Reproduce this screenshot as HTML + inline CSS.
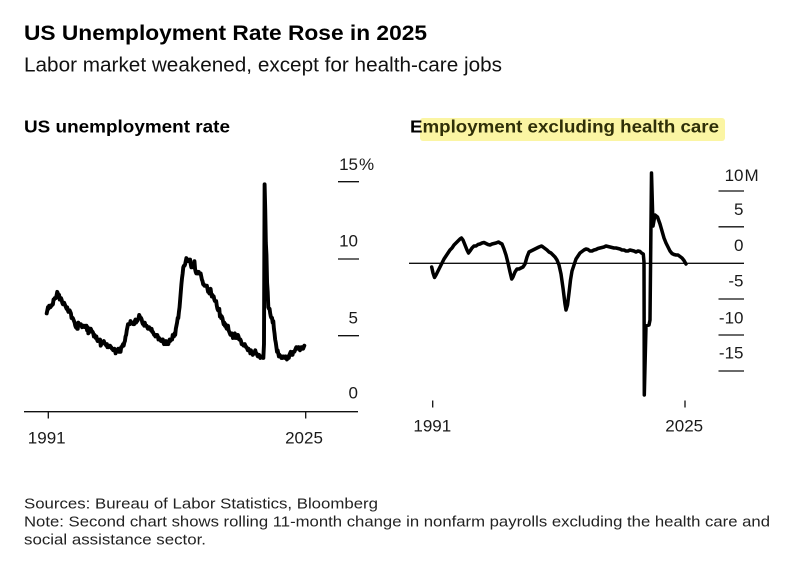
<!DOCTYPE html>
<html><head><meta charset="utf-8"><style>
html,body{margin:0;padding:0;background:#fff;}
svg{display:block;}
text{font-family:"Liberation Sans",Arial,sans-serif;}
</style></head><body>
<svg width="799" height="566" viewBox="0 0 799 566" xmlns="http://www.w3.org/2000/svg">
<rect width="799" height="566" fill="#fff"/>
<text x="24" y="40" font-size="21" font-weight="bold" fill="#000" textLength="403" lengthAdjust="spacingAndGlyphs">US Unemployment Rate Rose in 2025</text>
<text x="24" y="71.5" font-size="20.5" fill="#111" textLength="478" lengthAdjust="spacingAndGlyphs">Labor market weakened, except for health-care jobs</text>

<text x="24" y="132.5" font-size="17.5" font-weight="bold" fill="#000" textLength="206" lengthAdjust="spacingAndGlyphs">US unemployment rate</text>
<rect x="420" y="118" width="305" height="23" rx="3" fill="#fbf5a3"/>
<text x="410" y="132.5" font-size="17.5" font-weight="bold" fill="#2f2f08" textLength="309" lengthAdjust="spacingAndGlyphs"><tspan fill="#000">E</tspan>mployment excluding health care</text>

<g stroke="#111" stroke-width="1.3">
<line x1="338" y1="181.7" x2="359" y2="181.7"/>
<line x1="338" y1="259" x2="359" y2="259"/>
<line x1="338" y1="335.7" x2="359" y2="335.7"/>
<line x1="24" y1="411.7" x2="358" y2="411.7"/>
<line x1="48.3" y1="411.7" x2="48.3" y2="418.5"/>
<line x1="305.7" y1="411.7" x2="305.7" y2="418.5"/>
</g>
<g font-size="17" fill="#1a1a1a">
<text x="358" y="170" text-anchor="end">15</text><text x="359" y="170">%</text>
<text x="358" y="246.7" text-anchor="end">10</text>
<text x="358" y="323.3" text-anchor="end">5</text>
<text x="358" y="398.3" text-anchor="end">0</text>
<text x="46.7" y="443.3" text-anchor="middle">1991</text>
<text x="304" y="443.3" text-anchor="middle">2025</text>
</g>
<polyline transform="translate(46.7 411.7) scale(0.6208 -15.36)" vector-effect="non-scaling-stroke" fill="none" stroke="#000" stroke-width="3.9" stroke-linejoin="round" stroke-linecap="round" points="0,6.4 1,6.6 2,6.8 3,6.7 4,6.9 5,6.9 6,6.8 7,6.9 8,6.9 9,7.0 10,7.0 11,7.3 12,7.3 13,7.4 14,7.4 15,7.4 16,7.6 17,7.8 18,7.7 19,7.6 20,7.6 21,7.3 22,7.4 23,7.4 24,7.3 25,7.1 26,7.0 27,7.1 28,7.1 29,7.0 30,6.9 31,6.8 32,6.7 33,6.8 34,6.6 35,6.5 36,6.6 37,6.6 38,6.5 39,6.4 40,6.1 41,6.1 42,6.1 43,6.0 44,5.9 45,5.8 46,5.6 47,5.5 48,5.6 49,5.4 50,5.4 51,5.8 52,5.6 53,5.6 54,5.7 55,5.7 56,5.6 57,5.5 58,5.6 59,5.6 60,5.6 61,5.5 62,5.5 63,5.6 64,5.6 65,5.3 66,5.5 67,5.1 68,5.2 69,5.2 70,5.4 71,5.4 72,5.3 73,5.2 74,5.2 75,5.1 76,4.9 77,5.0 78,4.9 79,4.8 80,4.9 81,4.7 82,4.6 83,4.7 84,4.6 85,4.6 86,4.7 87,4.3 88,4.4 89,4.5 90,4.5 91,4.5 92,4.6 93,4.5 94,4.4 95,4.4 96,4.3 97,4.4 98,4.2 99,4.3 100,4.2 101,4.3 102,4.3 103,4.2 104,4.2 105,4.1 106,4.1 107,4.0 108,4.0 109,4.1 110,4.0 111,3.8 112,4.0 113,4.0 114,4.0 115,4.1 116,3.9 117,3.9 118,3.9 119,3.9 120,4.2 121,4.2 122,4.3 123,4.4 124,4.3 125,4.5 126,4.6 127,4.9 128,5.0 129,5.3 130,5.5 131,5.7 132,5.7 133,5.7 134,5.7 135,5.9 136,5.8 137,5.8 138,5.8 139,5.7 140,5.7 141,5.7 142,5.9 143,6.0 144,5.8 145,5.9 146,5.9 147,6.0 148,6.1 149,6.3 150,6.2 151,6.1 152,6.1 153,6.0 154,5.8 155,5.7 156,5.7 157,5.6 158,5.8 159,5.6 160,5.6 161,5.6 162,5.5 163,5.4 164,5.4 165,5.5 166,5.4 167,5.4 168,5.3 169,5.4 170,5.2 171,5.2 172,5.1 173,5.0 174,5.0 175,4.9 176,5.0 177,5.0 178,5.0 179,4.9 180,4.7 181,4.8 182,4.7 183,4.7 184,4.6 185,4.6 186,4.7 187,4.7 188,4.5 189,4.4 190,4.5 191,4.4 192,4.6 193,4.5 194,4.4 195,4.5 196,4.4 197,4.6 198,4.7 199,4.6 200,4.7 201,4.7 202,4.7 203,5.0 204,5.0 205,4.9 206,5.1 207,5.0 208,5.4 209,5.6 210,5.8 211,6.1 212,6.1 213,6.5 214,6.8 215,7.3 216,7.8 217,8.3 218,8.7 219,9.0 220,9.4 221,9.5 222,9.5 223,9.6 224,9.8 225,10.0 226,9.9 227,9.9 228,9.8 229,9.8 230,9.9 231,9.9 232,9.6 233,9.4 234,9.4 235,9.5 236,9.5 237,9.4 238,9.8 239,9.3 240,9.1 241,9.0 242,9.0 243,9.1 244,9.0 245,9.1 246,9.0 247,9.0 248,9.0 249,8.8 250,8.6 251,8.5 252,8.3 253,8.3 254,8.2 255,8.2 256,8.2 257,8.2 258,8.2 259,8.0 260,7.8 261,7.8 262,7.7 263,7.9 264,8.0 265,7.7 266,7.5 267,7.6 268,7.5 269,7.5 270,7.3 271,7.2 272,7.2 273,7.2 274,6.9 275,6.7 276,6.6 277,6.7 278,6.7 279,6.2 280,6.3 281,6.1 282,6.2 283,6.1 284,5.9 285,5.7 286,5.8 287,5.6 288,5.7 289,5.5 290,5.4 291,5.4 292,5.6 293,5.3 294,5.2 295,5.1 296,5.0 297,5.0 298,5.1 299,5.0 300,4.8 301,4.9 302,5.0 303,5.1 304,4.8 305,4.9 306,4.8 307,4.9 308,5.0 309,4.9 310,4.7 311,4.7 312,4.7 313,4.6 314,4.4 315,4.4 316,4.4 317,4.3 318,4.3 319,4.4 320,4.3 321,4.2 322,4.2 323,4.1 324,4.0 325,4.1 326,4.0 327,4.0 328,3.8 329,4.0 330,3.8 331,3.8 332,3.7 333,3.8 334,3.8 335,3.9 336,4.0 337,3.8 338,3.8 339,3.7 340,3.6 341,3.6 342,3.7 343,3.6 344,3.5 345,3.6 346,3.6 347,3.6 348,3.5 349,3.5 350,4.4 351,14.8 352,13.2 353,11.0 354,10.2 355,8.4 356,7.8 357,6.8 358,6.7 359,6.7 360,6.4 361,6.2 362,6.1 363,6.1 364,5.8 365,5.9 366,5.4 367,5.1 368,4.7 369,4.5 370,4.2 371,3.9 372,4.0 373,3.8 374,3.6 375,3.7 376,3.6 377,3.6 378,3.5 379,3.6 380,3.5 381,3.6 382,3.6 383,3.5 384,3.5 385,3.6 386,3.5 387,3.4 388,3.6 389,3.6 390,3.5 391,3.7 392,3.8 393,3.9 394,3.7 395,3.8 396,3.7 397,3.9 398,3.9 399,3.9 400,4.0 401,4.1 402,4.2 403,4.2 404,4.1 405,4.1 406,4.2 407,4.1 408,4.0 409,4.1 410,4.2 411,4.2 412,4.2 413,4.1 414,4.2 415,4.3"/>

<g stroke="#111" stroke-width="1.3">
<line x1="718.5" y1="191" x2="744" y2="191"/>
<line x1="718.5" y1="226.8" x2="744" y2="226.8"/>
<line x1="409" y1="263.3" x2="744" y2="263.3"/>
<line x1="718.5" y1="299" x2="744" y2="299"/>
<line x1="718.5" y1="335" x2="744" y2="335"/>
<line x1="718.5" y1="371" x2="744" y2="371"/>
<line x1="432.7" y1="400.5" x2="432.7" y2="407.5"/>
<line x1="685" y1="400.5" x2="685" y2="407.5"/>
</g>
<g font-size="17" fill="#1a1a1a">
<text x="743.5" y="181" text-anchor="end">10</text><text x="744.5" y="181">M</text>
<text x="743.5" y="215" text-anchor="end">5</text>
<text x="743.5" y="251" text-anchor="end">0</text>
<text x="743.5" y="286.7" text-anchor="end">-5</text>
<text x="743.5" y="323.3" text-anchor="end">-10</text>
<text x="743.5" y="358.3" text-anchor="end">-15</text>
<text x="432.3" y="431.7" text-anchor="middle">1991</text>
<text x="684.2" y="431.7" text-anchor="middle">2025</text>
</g>
<polyline fill="none" stroke="#000" stroke-width="3.5" stroke-linejoin="round" stroke-linecap="round" points="431.7,267 433,273 434.5,277.5 436,275 438,271 440,267 442,263 444,259 446,256 448,253 450,250 452,248 454,245 456,243 458,241 460,239 461.5,238 463,240 465,245 467,250 468.5,253 470,251 472,248 474,246 476,246 478,244.5 480,244 482,243 484,242.5 486,243.5 488,244.5 490,245 492,244 494,243.5 496,243 498.5,242 500,243 502,244 504,249 506,255 508,263 510,272 511.7,279 513,277 515,272 517,269 519,269 521,268 523,267 525,264 527,257 529,252 531,251 533,250 535,249 537,248 539,247 541.5,246 543,247 545,248.5 547,250 549,252 551,253 553,255 555,257 557,260 559,265 561,274 563,288 565,304 566,310 567.5,305 569,293 570.5,280 572,271 574,265 576,259 578,256 580,253 582,251.5 584,250 586,249 588,249.5 590,251 592,251 594,250 596,249.5 598,248.5 600,248 602,247.5 604,247 606,246 608,246.5 610,247 612,247.5 614,248 616,248 618,248.5 620,249 622,250 624,250 626,251 628,251 630,250 632,250.5 634,251 636,252 638,251 640,251.5 641.5,253 643.3,254 644,262 644.3,395 646,326 649,325 650,320 651.5,173 653,226 655,215 657.5,217 660,224 662,231 664,238 666,243 668,247 670,251 672,253.5 674,254.5 676,255 678,255 680,256.5 682,258 684,260.5 686,264"/>

<g font-size="15" fill="#222">
<text x="24" y="508.3" textLength="354" lengthAdjust="spacingAndGlyphs">Sources: Bureau of Labor Statistics, Bloomberg</text>
<text x="24" y="526.5" textLength="746" lengthAdjust="spacingAndGlyphs">Note: Second chart shows rolling 11-month change in nonfarm payrolls excluding the health care and</text>
<text x="24" y="544.3" textLength="182" lengthAdjust="spacingAndGlyphs">social assistance sector.</text>
</g>
</svg>
</body></html>
